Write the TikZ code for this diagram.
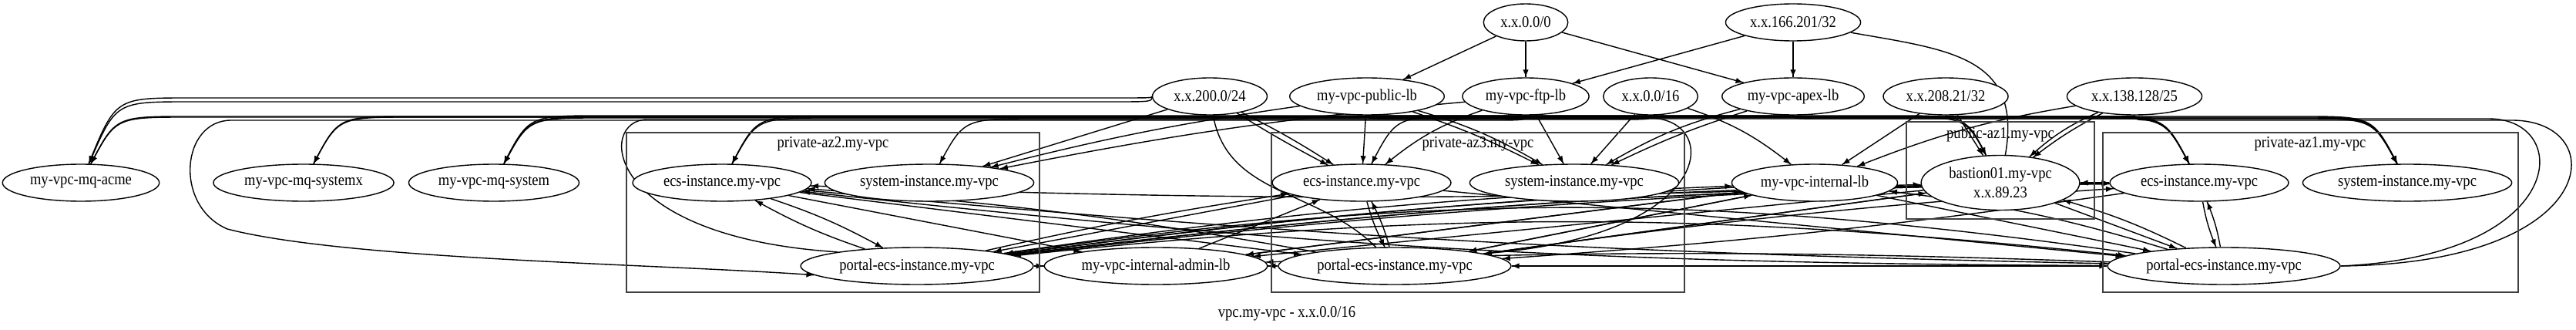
\documentclass[tikz,border=0pt]{standalone}
\usepackage{fontspec}
\setmainfont{Liberation Serif}[FakeStretch=0.88]
\usetikzlibrary{arrows.meta}
\usetikzlibrary{decorations.markings}
\usetikzlibrary{shapes.geometric}
\usetikzlibrary{calc}
\pgfdeclarelayer{wires}
\pgfsetlayers{wires,main}
\tikzset{->/.style = {decoration={markings,mark=at position 1 with {\arrow{Latex[length=0.1cm,width=0.075cm]}}},postaction={decorate}}}
\tikzset{res/.style = {draw, fill=white, ellipse, inner xsep=0.06cm, inner ysep=0, minimum height=0.48cm}}
\tikzset{zone/.style = {draw=black!75, line width=0.5pt}}
\tikzset{bus/.style = {to path={.. controls (\tikztostart |- 0,#1) .. ($(\tikztostart |- 0,#1)!0.5cm!(\tikztotarget |- 0,#1)$) -- ($(\tikztotarget |- 0,#1)!1.4cm!(\tikztostart |- 0,#1)$) .. controls ($(\tikztotarget |- 0,#1)!0.45cm!(\tikztostart |- 0,#1)$) .. (\tikztotarget)}}}

\begin{document}
\begin{tikzpicture}[font=\fontsize{6}{7.2}\selectfont]
        \useasboundingbox (0,0) rectangle (33.43,4.27);
        % zones
        \draw[zone] (8.13,0.48) rectangle (13.49,2.55);
        \node (lblaz2) at (10.81,2.40) {private-az2.my-vpc};
        \draw[zone] (16.50,0.48) rectangle (21.86,2.55);
        \node (lblaz3) at (19.18,2.40) {private-az3.my-vpc};
        \draw[zone] (24.74,1.43) rectangle (27.18,2.69);
        \node (lblpub) at (25.96,2.53) {public-az1.my-vpc};
        \draw[zone] (27.29,0.48) rectangle (32.68,2.55);
        \node (lblaz1) at (29.98,2.40) {private-az1.my-vpc};
        \node (title) at (16.70,0.20) {vpc.my-vpc - x.x.0.0/16};
        % sources
        \node[res] (cidr0) at (19.80,3.98) {x.x.0.0/0};
        \node[res] (cidr166) at (23.27,3.98) {x.x.166.201/32};
        \node[res] (cidr200) at (15.70,3.02) {x.x.200.0/24};
        \node[res] (publb) at (17.74,3.02) {my-vpc-public-lb};
        \node[res] (ftplb) at (19.80,3.02) {my-vpc-ftp-lb};
        \node[res] (cidr16) at (21.42,3.02) {x.x.0.0/16};
        \node[res] (apexlb) at (23.27,3.02) {my-vpc-apex-lb};
        \node[res] (cidr208) at (25.25,3.02) {x.x.208.21/32};
        \node[res] (cidr138) at (27.70,3.02) {x.x.138.128/25};
        % targets
        \node[res] (mqacme) at (1.05,1.90) {my-vpc-mq-acme};
        \node[res] (mqsystemx) at (3.94,1.90) {my-vpc-mq-systemx};
        \node[res] (mqsystem) at (6.41,1.90) {my-vpc-mq-system};
        \node[res] (ecsaz2) at (9.37,1.90) {ecs-instance.my-vpc};
        \node[res] (sysaz2) at (12.06,1.90) {system-instance.my-vpc};
        \node[res] (portalaz2) at (11.90,0.82) {portal-ecs-instance.my-vpc};
        \node[res] (adminlb) at (15.00,0.82) {my-vpc-internal-admin-lb};
        \node[res] (ecsaz3) at (17.67,1.90) {ecs-instance.my-vpc};
        \node[res] (sysaz3) at (20.43,1.90) {system-instance.my-vpc};
        \node[res] (portalaz3) at (18.10,0.82) {portal-ecs-instance.my-vpc};
        \node[res] (intlb) at (23.55,1.90) {my-vpc-internal-lb};
        \node[res, minimum height=0.71cm, align=center] (bastion) at (25.96,1.90) {bastion01.my-vpc\\x.x.89.23};
        \node[res] (ecsaz1) at (28.54,1.90) {ecs-instance.my-vpc};
        \node[res] (sysaz1) at (31.24,1.90) {system-instance.my-vpc};
        \node[res] (portalaz1) at (28.86,0.82) {portal-ecs-instance.my-vpc};
        \begin{pgfonlayer}{wires}
        % top
        \draw[->] (cidr0) -- (publb);
        \draw[->] (cidr0) -- (ftplb);
        \draw[->] (cidr0) -- (apexlb);
        \draw[->] (cidr166) -- (ftplb);
        \draw[->] (cidr166) -- (apexlb);
        \draw[->] (cidr166) to[out=-10,in=80,looseness=1.3] (bastion);
        % x.x.200.0/24
        \draw[->] (cidr200.west) to[bus=3.00] (mqacme);
        \draw[->] (cidr200.west) to[bus=2.95] (mqacme);
        \draw[->] (cidr200) to[bend left=3] (ecsaz3);
        \draw[->] (cidr200) to[bend right=2] (ecsaz3);
        \draw[->] (cidr200) -- (sysaz2);
        \draw[->] (cidr200) to[out=-80,in=135] (portalaz3);
        \draw[->] (cidr200) to[bus=2.75] (bastion);
        % bus to the left
        \draw[->] (publb) to[bus=2.76] (mqacme);
        \draw[->] (cidr16) to[bus=2.75] (mqacme);
        \draw[->] (ftplb) to[bus=2.75] (mqsystemx);
        \draw[->] (apexlb) to[bus=2.76] (mqsystemx);
        \draw[->] (publb) to[bus=2.74] (mqsystem);
        \draw[->] (cidr16) to[bus=2.75] (mqsystem);
        \draw[->] (apexlb) to[bus=2.77] (mqsystem);
        \draw[->] (ftplb) to[bus=2.74] (ecsaz2);
        \draw[->] (cidr138) to[bus=2.76] (ecsaz2);
        \draw[->] (cidr16) to[bus=2.73] (sysaz2);
        \draw[->] (ftplb) .. controls (19.80,2.71) .. (19.30,2.71) -- (3.00,2.71) .. controls (2.35,2.71) and (2.25,1.60) .. (2.95,1.30) .. controls (4.50,0.90) and (8.50,0.85) .. (portalaz2.185);
        \draw[->] (cidr16) .. controls (21.42,2.72) .. (20.90,2.72) -- (8.40,2.72) .. controls (7.75,2.72) and (7.80,1.20) .. (portalaz2.170);
        \draw[->] (publb) .. controls (17.74,2.74) .. (18.30,2.74) -- (21.40,2.74) .. controls (22.35,2.74) and (22.30,1.20) .. (portalaz3.8);
        % bus to the right
        \draw[->] (publb) to[bus=2.74] (ecsaz1);
        \draw[->] (cidr16) to[bus=2.75] (ecsaz1);
        \draw[->] (cidr208) to[bus=2.76] (ecsaz1);
        \draw[->] (publb) to[bus=2.73] (sysaz1);
        \draw[->] (ftplb) to[bus=2.75] (sysaz1);
        \draw[->] (cidr16) to[bus=2.76] (sysaz1);
        \draw[->] (cidr138) to[bus=2.74] (sysaz1);
        \draw[->] (publb) to[bus=2.77] (bastion);
        \draw[->] (apexlb) .. controls (23.27,2.73) .. (23.80,2.73) -- (32.30,2.73) .. controls (33.40,2.73) and (33.35,0.95) .. (portalaz1.east);
        \draw[->] (cidr138) .. controls (27.70,2.71) .. (28.20,2.71) -- (32.60,2.71) .. controls (33.90,2.71) and (33.80,0.85) .. (portalaz1.east);
        % middle
        \draw[->] (publb) -- (ecsaz3);
        \draw[->] (publb) to[bend left=4] (sysaz3);
        \draw[->] (publb) to[bend left=7] (sysaz3);
        \draw[->] (ftplb) -- (sysaz3);
        \draw[->] (ftplb) to[bend right=10] (ecsaz3);
        \draw[->] (cidr16) -- (sysaz3);
        \draw[->] (cidr16) to[bend left=10] (intlb);
        \draw[->] (apexlb) to[bend right=4] (sysaz3);
        \draw[->] (apexlb) to[bend right=8] (sysaz3);
        \draw[->] (apexlb) to[bus=2.76] (ecsaz3);
        \draw[->] (publb) to[bend right=3] (sysaz2);
        \draw[->] (ftplb) to[bend right=3] (sysaz2);
        \draw[->] (cidr208) -- (bastion);
        \draw[->] (cidr208) -- (intlb);
        \draw[->] (cidr138) to[bend right=5] (bastion);
        \draw[->] (cidr138) to[bend right=9] (bastion);
        \draw[->] (cidr138) to[bend right=6] (intlb);
        % lower band
        \draw[->] (portalaz2) -- (adminlb);
        \draw[->] (portalaz3) -- (adminlb);
        \draw[->] (ecsaz2) to[bend left=5] (portalaz2);
        \draw[->] (portalaz2) to[bend left=5] (ecsaz2);
        \draw[->] (ecsaz3) to[bend right=6] (portalaz3);
        \draw[->] (portalaz3) to[bend right=6] (ecsaz3);
        \draw[->] (ecsaz1) to[bend right=6] (portalaz1);
        \draw[->] (portalaz1) to[bend right=6] (ecsaz1);
        \draw[->] (bastion) -- (ecsaz1);
        \draw[->] (ecsaz1) -- (bastion);
        \draw[->] (portalaz3) to[bend right=3] (ecsaz2);
        \draw[->] (portalaz1) to[bend left=3] (ecsaz2);
        \draw[->] (bastion) to[bend left=2] (ecsaz2);
        \draw[->] (ecsaz2) -- (adminlb);
        \draw[->] (ecsaz2) to[bend right=2] (portalaz1);
        \draw[->] (ecsaz2) -- (portalaz3);
        \draw[->] (portalaz2) to[bend left=2] (ecsaz3);
        \draw[->] (adminlb) -- (ecsaz3);
        \draw[->] (portalaz2) to[bend left=3] (intlb);
        \draw[->] (adminlb) -- (intlb);
        \draw[->] (portalaz2) to[bend left=3] (bastion);
        \draw[->] (portalaz2) to[bend left=3] (ecsaz1);
        \draw[->] (ecsaz3) -- (portalaz2);
        \draw[->] (intlb) to[bend right=2] (portalaz2);
        \draw[->] (bastion) to[bend right=2] (portalaz2);
        \draw[->] (ecsaz1) to[bend right=3] (portalaz2);
        \draw[->] (portalaz1) to[bend right=8] (portalaz2);
        \draw[->] (portalaz2) to[bend left=6] (portalaz1);
        \draw[->] (portalaz1) to[bend right=2] (adminlb);
        \draw[->] (bastion) -- (adminlb);
        \draw[->] (intlb) -- (adminlb);
        \draw[->] (portalaz1) -- (portalaz3);
        \draw[->] (portalaz3) -- (portalaz1);
        \draw[->] (bastion) -- (portalaz3);
        \draw[->] (intlb) -- (portalaz3);
        \draw[->] (ecsaz1) to[bend left=2] (portalaz3);
        \draw[->] (ecsaz3) -- (portalaz1);
        \draw[->] (intlb) -- (portalaz1);
        \draw[->] (bastion) -- (portalaz1);
        \draw[->] (portalaz1) to[bend right=5] (intlb);
        \draw[->] (portalaz1) to[bend right=5] (bastion);
        \draw[->] (portalaz3) -- (intlb);
        \draw[->] (portalaz3) -- (bastion);
        \draw[->] (portalaz3) to[bend left=2] (ecsaz1);
        \end{pgfonlayer}
    \end{tikzpicture}
\end{document}
